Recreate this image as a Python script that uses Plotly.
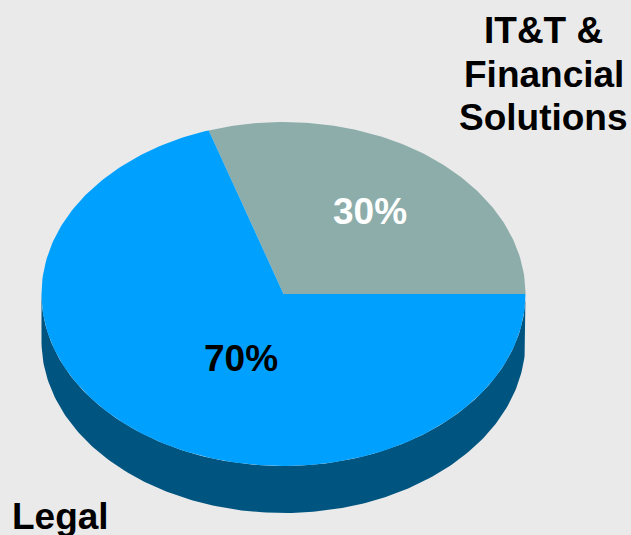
import numpy as np
import plotly.graph_objects as go

categories = ["IT&T & Financial Solutions", "Legal"]
shares = [30, 70]
face_colors = ["#8CADAA", "#00A0FF"]
side_color = "#005580"
label_colors = ["#FFFFFF", "#000000"]

W, H = 631, 535
CX, CY, RX, RY, DEPTH = 283.5, 294, 242, 172, 47
FONT = "Liberation Sans, Arial, sans-serif"


def ellipse(deg, dy=0):
    t = np.radians(deg)
    return CX + RX * np.cos(t), CY - RY * np.sin(t) + dy


fig = go.Figure()

# side wall: visible lower half of the rim, extruded downward
a = np.linspace(180, 360, 181)
x1, y1 = ellipse(a)
x2, y2 = ellipse(a[::-1], DEPTH)
fig.add_trace(go.Scatter(
    x=np.r_[x1, x2], y=np.r_[y1, y2], mode="lines", fill="toself",
    fillcolor=side_color, line=dict(color=side_color, width=0), hoverinfo="skip",
))

# top faces: each wedge spans its share of the full turn
start = 0.0
total = sum(shares)
for cat, val, col in zip(categories, shares, face_colors):
    sweep = 360.0 * val / total
    a = np.linspace(start, start + sweep, max(int(sweep), 2) + 1)
    ex, ey = ellipse(a)
    fig.add_trace(go.Scatter(
        x=np.r_[CX, ex, CX], y=np.r_[CY, ey, CY], mode="lines", fill="toself",
        fillcolor=col, line=dict(color=col, width=0), name=cat,
        text=f"{cat}: {val}%", hoverinfo="text",
    ))
    start += sweep

annotations = []


def label(text, x, y, color="#000000"):
    annotations.append(dict(
        x=x, y=y, xref="x", yref="y", text=f"<b>{text}</b>", showarrow=False,
        xanchor="center", yanchor="middle",
        font=dict(family=FONT, size=37, color=color),
    ))


label(f"{shares[0]}%", 369.5, 211.5, label_colors[0])
label(f"{shares[1]}%", 241, 358.5, label_colors[1])
label("IT&amp;T &amp;", 543.5, 30)
label("Financial", 543.5, 74)
label("Solutions", 543.5, 117)
label(categories[1], 60.5, 516)

fig.update_layout(
    width=W, height=H, margin=dict(l=0, r=0, t=0, b=0),
    paper_bgcolor="#EAEAEA", plot_bgcolor="#EAEAEA", showlegend=False,
    xaxis=dict(range=[0, W], visible=False, fixedrange=True),
    yaxis=dict(range=[H, 0], visible=False, fixedrange=True),
    annotations=annotations,
)
fig.write_html(
    "out.html",
    config={"displayModeBar": False},
    post_script="document.body.style.margin='0';document.body.style.overflow='hidden';",
)
